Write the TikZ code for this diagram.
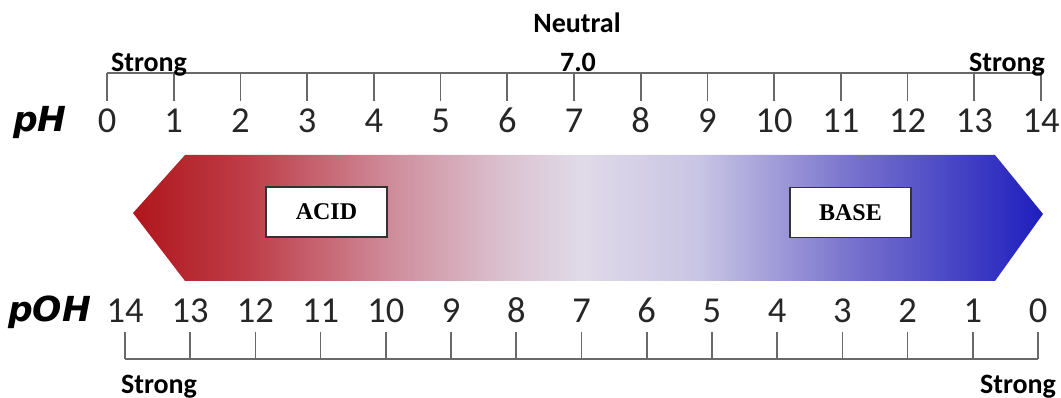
\documentclass[tikz,border=0pt]{standalone}
\usepackage{fontspec}
\setmainfont{Carlito}
\newfontfamily\carlito{Carlito}
\newfontfamily\dv{DejaVu Sans}
\newfontfamily\tnr{Liberation Serif}
\definecolor{axisgray}{RGB}{105,105,105}
\definecolor{c1}{RGB}{176,22,28}
\definecolor{c2}{RGB}{190,62,72}
\definecolor{c3}{RGB}{208,145,160}
\definecolor{c4}{RGB}{218,192,206}
\definecolor{c5}{RGB}{224,218,232}
\definecolor{c6}{RGB}{200,196,228}
\definecolor{c7}{RGB}{120,115,205}
\definecolor{c8}{RGB}{30,30,190}
\pgfdeclarehorizontalshading{phshade}{100bp}{color(0bp)=(c1); color(25bp)=(c1); color(31.4bp)=(c2); color(39.7bp)=(c3); color(45.2bp)=(c4); color(49.6bp)=(c5); color(56.2bp)=(c6); color(64.4bp)=(c7); color(75bp)=(c8); color(100bp)=(c8)}
\tikzset{
  axisline/.style={draw=axisgray, line width=1.6pt},
  tickline/.style={draw=axisgray, line width=1.6pt},
  numlab/.style={font=\carlito\fontsize{36.5}{36.5}\selectfont, anchor=base, inner sep=0pt, text=black!85},
  strong/.style={font=\carlito\bfseries\fontsize{28}{28}\selectfont, anchor=base, inner sep=0pt},
  scalename/.style={font=\dv\bfseries\itshape\fontsize{34.5}{34.5}\selectfont, anchor=base west, inner sep=0pt},
  labelbox/.style={draw=black!80, line width=1.3pt, fill=white, minimum width=121pt, minimum height=50pt, inner sep=0pt, font=\tnr\bfseries\fontsize{24}{24}\selectfont},
}
\begin{document}
\begin{tikzpicture}[x=1pt,y=-1pt]
\useasboundingbox (0,0) rectangle (1061,398);
% arrow band
\path[shading=phshade] (133,213) -- (185,155) -- (995,155) -- (1043,214) -- (995,281) -- (185,281) -- cycle;
\node[labelbox] (acid) at (326.5,212) {ACID};
\node[labelbox] (base) at (850.5,212.5) {BASE};
% pH scale
\coordinate (pl) at (107,73);
\coordinate (pr) at (1041,73);
\draw[axisline] (pl) -- (pr);
\foreach \i in {0,...,14} {
  \pgfmathsetmacro{\xx}{107+66.714*\i}
  \draw[tickline] (\xx,73) -- (\xx,101);
  \node[numlab] (ph\i) at (\xx,133) {\i};
}
\node[scalename] (phname) at (13,132) {pH};
\node[strong] (sTL) at (149,72) {Strong};
\node[strong] (sTR) at (1007,72) {Strong};
\node[strong] (neutral) at (577,33) {Neutral};
\node[strong] (seven) at (578,72) {7.0};
% pOH scale
\coordinate (ql) at (125,359);
\coordinate (qr) at (1038,359);
\draw[axisline] (ql) -- (qr);
\foreach \i in {0,...,14} {
  \pgfmathsetmacro{\xx}{125+65.214*\i}
  \pgfmathtruncatemacro{\v}{14-\i}
  \draw[tickline] (\xx,332) -- (\xx,359);
  \node[numlab] (poh\i) at (\xx,323) {\v};
}
\node[scalename] (pohname) at (8,322) {pOH};
\node[strong] (sBL) at (159,393) {Strong};
\node[strong] (sBR) at (1018,393) {Strong};
\end{tikzpicture}
\end{document}
